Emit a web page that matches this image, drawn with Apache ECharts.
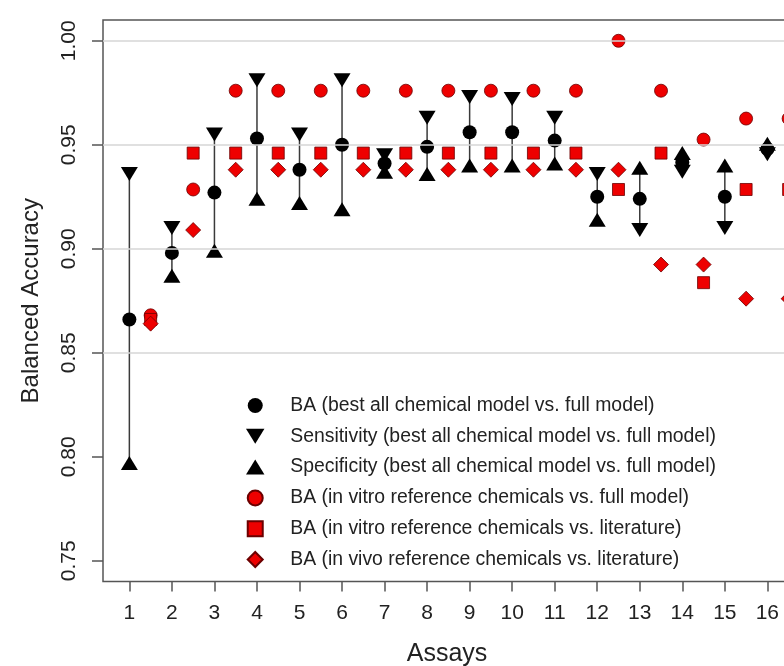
<!DOCTYPE html>
<html>
<head>
<meta charset="utf-8">
<script src="https://cdn.jsdelivr.net/npm/echarts@6/dist/echarts.min.js"></script>
<style>
  html, body { margin: 0; padding: 0; background: #fff; }
  #the-echart { width: 784px; height: 666px; }
</style>
</head>
<body>
<div id="the-echart"></div>
<script>
// assay positions and the offset positions of the reference-chemical points
const assays = [1, 2, 3, 4, 5, 6, 7, 8, 9, 10, 11, 12, 13, 14, 15, 16]
const refPositions = [1.5, 2.5, 3.5, 4.5, 5.5, 6.5, 7.5, 8.5, 9.5, 10.5, 11.5, 12.5, 13.5, 14.5, 15.5, 16.5]

const baBest = [0.866, 0.898, 0.927, 0.953, 0.938, 0.950, 0.941, 0.949, 0.956, 0.956, 0.952, 0.925, 0.924, 0.9415, 0.925, 0.948]
const sensitivity = [0.936, 0.910, 0.955, 0.981, 0.955, 0.981, 0.945, 0.963, 0.973, 0.972, 0.963, 0.936, 0.909, 0.937, 0.910, 0.9455]
const specificity = [0.797, 0.887, 0.899, 0.924, 0.922, 0.919, 0.937, 0.936, 0.940, 0.940, 0.941, 0.914, 0.939, 0.946, 0.940, 0.9505]

const vitroFull = [0.868, 0.9285, 0.976, 0.976, 0.976, 0.976, 0.976, 0.976, 0.976, 0.976, 0.976, 1.000, 0.976, 0.9525, 0.9626, 0.9626]
const vitroLit = [0.866, 0.946, 0.946, 0.946, 0.946, 0.946, 0.946, 0.946, 0.946, 0.946, 0.946, 0.9285, 0.946, 0.8837, 0.9285, 0.9285]
const vivoLit = [0.864, 0.909, 0.938, 0.938, 0.938, 0.938, 0.938, 0.938, 0.938, 0.938, 0.938, 0.938, 0.8924, 0.8924, 0.876, 0.876]

const xTicks = [1, 2, 3, 4, 5, 6, 7, 8, 9, 10, 11, 12, 13, 14, 15, 16]
const yTicks = [0.75, 0.80, 0.85, 0.90, 0.95, 1.00]
const gridValues = [0.85, 0.90, 0.95, 1.00]

const names = [
  'BA (best all chemical model vs. full model)',
  'Sensitivity (best all chemical model vs. full model)',
  'Specificity (best all chemical model vs. full model)',
  'BA (in vitro reference chemicals vs. full model)',
  'BA (in vitro reference chemicals vs. literature)',
  'BA (in vivo reference chemicals vs. literature)'
]

const font = 'Liberation Sans'
const downTri = 'path://M0,0L16,0L8,13Z'
const upTri = 'path://M8,0L16,13L0,13Z'
const square = 'path://M0,0L10,0L10,10L0,10Z'
const diamond = 'path://M5,0L10,5L5,10L0,5Z'
const red = '#ee0000'
const redBorder = '#6b0000'

function pairs(xs, ys) {
  return xs.map((x, i) => [x, ys[i]])
}

const chart = echarts.init(document.getElementById('the-echart'))

chart.setOption({
  animation: false,
  backgroundColor: '#fff',
  // the plot box runs past the right edge of the picture, as in the source figure
  grid: {
    left: 103, top: 20, width: 712, height: 561.5,
    outerBoundsMode: 'none',
    containLabel: false,
    show: true, borderColor: '#555', borderWidth: 1.5
  },
  xAxis: {
    type: 'value',
    min: 0.38,
    max: 17.12,
    name: 'Assays',
    nameLocation: 'middle',
    nameGap: 60,
    nameTextStyle: { fontFamily: font, fontSize: 25, color: '#222', padding: [0, 24, 0, 0] },
    axisLine: { show: false },
    splitLine: { show: false },
    axisTick: { show: true, length: 10, customValues: xTicks, lineStyle: { color: '#555', width: 1.5 } },
    axisLabel: {
      customValues: xTicks, margin: 21,
      fontFamily: font, fontSize: 21, color: '#222'
    }
  },
  yAxis: {
    type: 'value',
    min: 0.74,
    max: 1.01,
    name: 'Balanced Accuracy',
    nameLocation: 'middle',
    nameGap: 60,
    nameTextStyle: { fontFamily: font, fontSize: 24, color: '#222' },
    axisLine: { show: false },
    splitLine: { show: false },
    axisTick: { show: true, length: 11, customValues: yTicks, lineStyle: { color: '#555', width: 1.5 } },
    axisLabel: {
      customValues: yTicks, rotate: 90, margin: 23,
      fontFamily: font, fontSize: 21, color: '#222',
      formatter: v => v.toFixed(2)
    }
  },
  legend: {
    data: names,
    orient: 'vertical',
    left: 241,
    top: 391,
    itemWidth: 60,
    itemHeight: 15,
    itemGap: 11.8,
    textStyle: { fontFamily: font, fontSize: 19.4, lineHeight: 19, color: '#222' }
  },
  series: [
    {
      // sensitivity-specificity ranges, with the horizontal reference lines
      type: 'custom',
      z: 1,
      silent: true,
      data: assays.map((x, i) => [x, sensitivity[i], specificity[i]]),
      renderItem: function(params, api) {
        const a = api.coord([api.value(0), api.value(1)])
        const b = api.coord([api.value(0), api.value(2)])
        return {
          type: 'line',
          shape: { x1: a[0], y1: a[1], x2: b[0], y2: b[1] },
          style: { stroke: '#3a3a3a', lineWidth: 1.5 }
        }
      },
      markLine: {
        silent: true,
        symbol: 'none',
        label: { show: false },
        lineStyle: { color: '#d6d6d6', width: 1.5, type: 'solid' },
        data: gridValues.map(v => ({ yAxis: v }))
      }
    },
    {
      name: names[0], type: 'scatter', z: 3,
      symbol: 'circle', symbolSize: 14,
      itemStyle: { color: '#000', opacity: 1 },
      data: pairs(assays, baBest)
    },
    {
      name: names[1], type: 'scatter', z: 3,
      symbol: downTri, symbolSize: [17, 14],
      itemStyle: { color: '#000', opacity: 1 },
      data: pairs(assays, sensitivity)
    },
    {
      name: names[2], type: 'scatter', z: 3,
      symbol: upTri, symbolSize: [17, 14],
      itemStyle: { color: '#000', opacity: 1 },
      data: pairs(assays, specificity)
    },
    {
      name: names[3], type: 'scatter', z: 3,
      symbol: 'circle', symbolSize: 13,
      itemStyle: { color: red, borderColor: redBorder, borderWidth: 0.8, opacity: 1 },
      data: pairs(refPositions, vitroFull)
    },
    {
      name: names[4], type: 'scatter', z: 3,
      symbol: square, symbolSize: 12,
      itemStyle: { color: red, borderColor: redBorder, borderWidth: 0.8, opacity: 1 },
      data: pairs(refPositions, vitroLit)
    },
    {
      name: names[5], type: 'scatter', z: 3,
      symbol: diamond, symbolSize: 15,
      itemStyle: { color: red, borderColor: redBorder, borderWidth: 0.8, opacity: 1 },
      data: pairs(refPositions, vivoLit)
    }
  ]
})
</script>
</body>
</html>
